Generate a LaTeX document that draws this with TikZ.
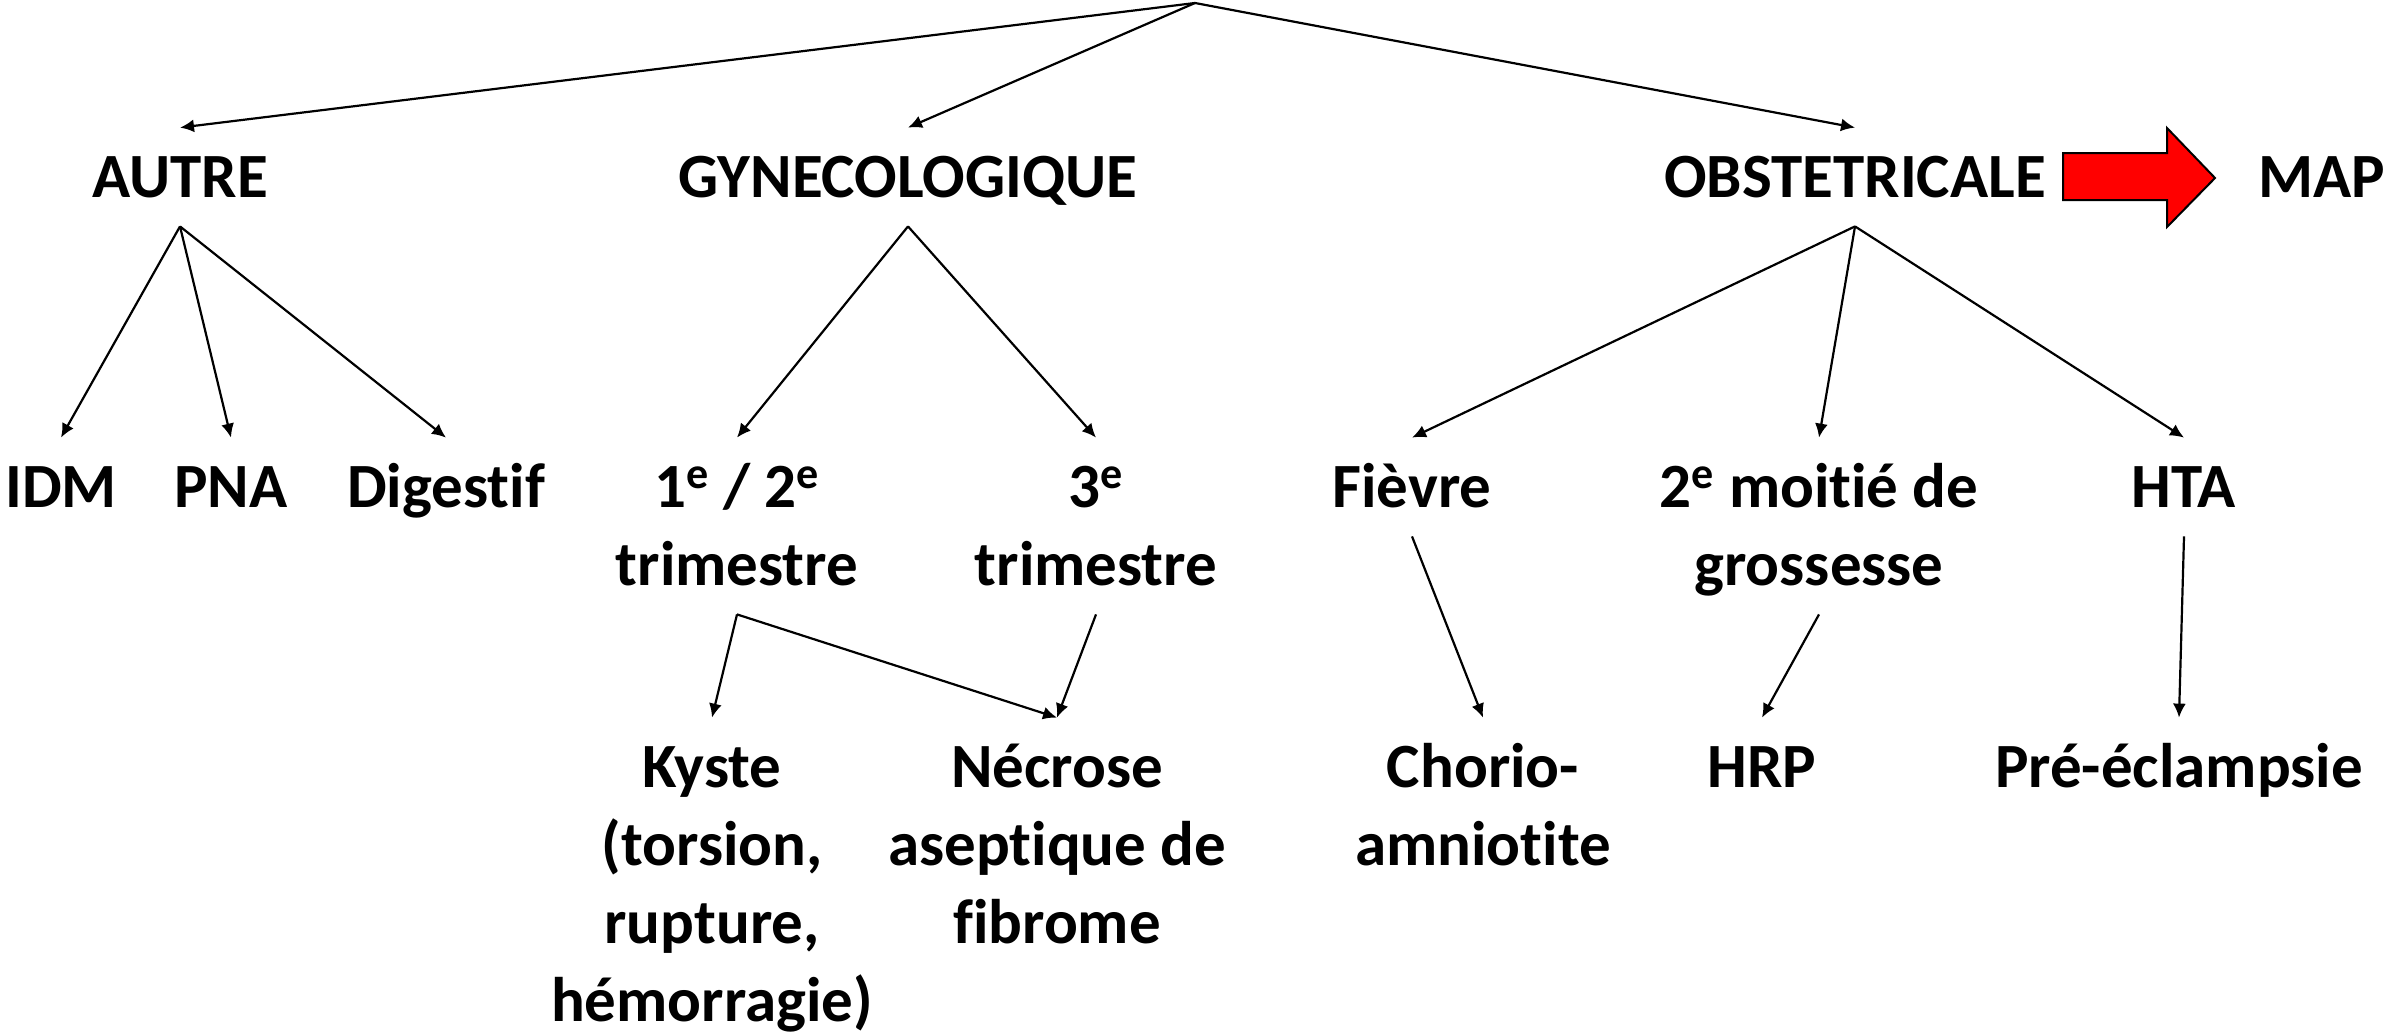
\documentclass[tikz,border=0pt]{standalone}
\usepackage{fontspec}
\setmainfont{Carlito}[Ligatures=NoCommon]
\usetikzlibrary{arrows.meta}

\begin{document}
\begin{tikzpicture}[x=0.5pt, y=-0.5pt, lbl/.style={font=\fontsize{31.5}{39}\selectfont\bfseries, align=center, anchor=base, inner xsep=0pt, inner ysep=14.5pt, text height=20pt, text depth=0pt}, two/.style={lbl, text height=59pt}, three/.style={lbl, text height=98pt}, four/.style={lbl, text height=137pt}, n/.style={-{Latex[length=7pt, width=6.5pt]}, line width=1.1pt}]
            \useasboundingbox (0,0) rectangle (2387,1033);
            % nodes (placed at the baseline of their last line)
            \coordinate (top) at (1195,3);
            \node[lbl] (autre) at (180,197) {AUTRE};
            \node[lbl] (gyn) at (908,197) {GYNECOLOGIQUE};
            \node[lbl] (obs) at (1855,197) {OBSTETRICALE};
            \node[lbl] (map) at (2322,197) {MAP};
            \node[lbl] (idm) at (61,507) {IDM};
            \node[lbl] (pna) at (231,507) {PNA};
            \node[lbl] (dig) at (446,507) {Digestif};
            \node[two] (t12) at (737,585) {1\textsuperscript{e} / 2\textsuperscript{e}\\trimestre};
            \node[two] (t3) at (1096,585) {3\textsuperscript{e}\\trimestre};
            \node[lbl] (fievre) at (1412,507) {Fièvre};
            \node[two] (moitie) at (1819,585) {2\textsuperscript{e} moitié de\\grossesse};
            \node[lbl] (hta) at (2184,507) {HTA};
            \node[four] (kyste) at (712,1021) {Kyste\\(torsion,\\rupture,\\hémorragie)};
            \node[three] (necrose) at (1057,943) {Nécrose\\aseptique de\\fibrome};
            \node[two] (chorio) at (1483,865) {Chorio-\\amniotite};
            \node[lbl] (hrp) at (1762,787) {HRP};
            \node[lbl] (pre) at (2179,787) {Pré-éclampsie};
            % red arrow
            \filldraw[fill=red, draw=black, line width=1pt] (2063,153) -- (2167,153) -- (2167,128) -- (2215,178) -- (2167,227) -- (2167,200) -- (2063,200) -- cycle;
            % edges
            \draw [n] (top) -- (autre.north);
            \draw [n] (top) -- (gyn.north);
            \draw [n] (top) -- (obs.north);
            \draw [n] (autre.south) -- (idm.north);
            \draw [n] (autre.south) -- (pna.north);
            \draw [n] (autre.south) -- (dig.north);
            \draw [n] (gyn.south) -- (t12.north);
            \draw [n] (gyn.south) -- (t3.north);
            \draw [n] (obs.south) -- (fievre.north);
            \draw [n] (obs.south) -- (moitie.north);
            \draw [n] (obs.south) -- (hta.north);
            \draw [n] (t12.south) -- (kyste.north);
            \draw [n] (t12.south) -- (necrose.north);
            \draw [n] (t3.south) -- (necrose.north);
            \draw [n] (fievre.south) -- (chorio.north);
            \draw [n] (moitie.south) -- (hrp.north);
            \draw [n] (hta.south) -- (pre.north);
        \end{tikzpicture}
\end{document}
